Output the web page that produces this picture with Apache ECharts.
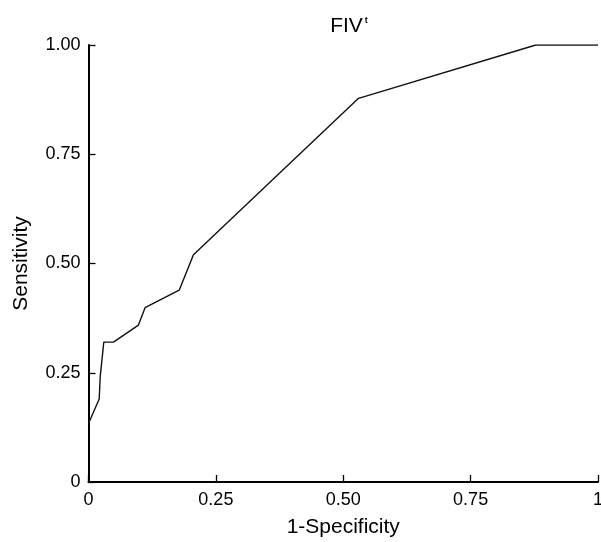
<!DOCTYPE html>
<html>
<head>
<meta charset="utf-8">
<script src="https://cdn.jsdelivr.net/npm/echarts@6/dist/echarts.min.js"></script>
<style>
html,body{margin:0;padding:0;background:#fff;}
#chart{width:601px;height:542px;}
</style>
</head>
<body>
<div id="chart"></div>
<script>
// ROC curve points
var specComplement = [0, 0.021, 0.023, 0.030, 0.049, 0.098, 0.111, 0.178, 0.206, 0.530, 0.878, 1.0];
var sensitivity    = [0.134, 0.190, 0.241, 0.320, 0.320, 0.359, 0.399, 0.439, 0.520, 0.878, 1.0, 1.0];
var xTickLabels = {"0": "0", "0.25": "0.25", "0.5": "0.50", "0.75": "0.75", "1": "1"};
var yTickLabels = {"0": "0", "0.25": "0.25", "0.5": "0.50", "0.75": "0.75", "1": "1.00"};

var pts = specComplement.map(function (x, i) { return [x, sensitivity[i]]; });
var font = "'Liberation Sans', Arial, sans-serif";
var chart = echarts.init(document.getElementById('chart'));
chart.setOption({
  animation: false,
  title: {
    text: '{m|FIV}{s|t}',
    left: 344, top: 11, textAlign: 'center',
    textStyle: {
      rich: {
        m: {fontFamily: font, fontSize: 21, color: '#000', fontWeight: 'normal'},
        s: {fontFamily: font, fontSize: 9, color: '#000', verticalAlign: 'top', padding: [0, 0, 11, 2]}
      }
    }
  },
  grid: {left: 88.5, right: 3, top: 45, bottom: 60, outerBoundsMode: 'none', containLabel: false},
  xAxis: {
    type: 'value', min: 0, max: 1, interval: 0.25,
    name: '1-Specificity', nameLocation: 'middle', nameGap: 35,
    nameTextStyle: {fontFamily: font, fontSize: 21, color: '#000'},
    axisLine: {lineStyle: {color: '#000', width: 2}},
    axisTick: {inside: true, length: 7, lineStyle: {color: '#000', width: 1.3}},
    axisLabel: {fontFamily: font, fontSize: 18, color: '#000', margin: 9,
      formatter: function (v) { return xTickLabels[String(v)]; }},
    splitLine: {show: false}
  },
  yAxis: {
    type: 'value', min: 0, max: 1, interval: 0.25,
    name: 'Sensitivity', nameLocation: 'middle', nameGap: 57, nameRotate: 90,
    nameTextStyle: {fontFamily: font, fontSize: 21, color: '#000'},
    axisLine: {lineStyle: {color: '#000', width: 2}},
    axisTick: {inside: true, length: 7, lineStyle: {color: '#000', width: 1.3}},
    axisLabel: {fontFamily: font, fontSize: 18, color: '#000', margin: 8,
      formatter: function (v) { return yTickLabels[String(v)]; }},
    splitLine: {show: false}
  },
  series: [{
    type: 'line', data: pts, symbol: 'none',
    lineStyle: {color: '#111', width: 1.4}
  }]
});
</script>
</body>
</html>
